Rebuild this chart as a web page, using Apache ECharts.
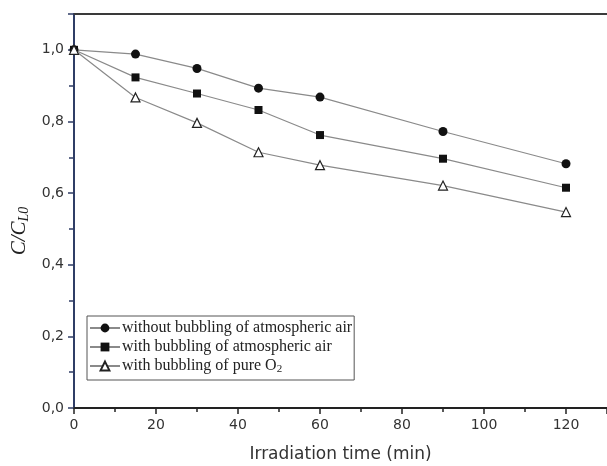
<!DOCTYPE html>
<html>
<head>
<meta charset="utf-8">
<script src="https://cdn.jsdelivr.net/npm/echarts@6/dist/echarts.min.js"></script>
<style>
html,body{margin:0;padding:0;background:#fff;}
#chart{width:607px;height:466px;}
</style>
</head>
<body>
<div id="chart"></div>
<script>
// irradiation time (min)
var times = [0, 15, 30, 45, 60, 90, 120];
// C/C_L0
var noBubbling = [1.0, 0.988, 0.948, 0.893, 0.868, 0.772, 0.682];
var airBubbling = [1.0, 0.923, 0.878, 0.832, 0.762, 0.696, 0.615];
var o2Bubbling = [1.0, 0.867, 0.796, 0.714, 0.678, 0.621, 0.547];
var seriesNames = ['without bubbling of atmospheric air', 'with bubbling of atmospheric air', 'with bubbling of pure O2'];

function pairs(xs, ys) {
	var out = [];
	for (var i = 0; i < xs.length; i++) {
		out.push([xs[i], ys[i]]);
	}
	return out;
}

var myChart = echarts.init(document.getElementById('chart'));
var lineCol = '#8a8a8a';
var option = {
	animation: false,
	backgroundColor: '#fff',
	grid: { left: 74, top: 14, right: 0, bottom: 58, outerBoundsMode: 'none', containLabel: false },
	legend: {
		orient: 'vertical',
		left: 87,
		top: 316,
		padding: [4, 2, 5, 2],
		borderColor: '#555',
		borderWidth: 1,
		itemWidth: 30,
		itemHeight: 11,
		itemGap: 3,
		data: seriesNames,
		formatter: function(name) {
			return name.replace('O2', 'O{sub|2}');
		},
		textStyle: {
			fontFamily: 'Liberation Serif',
			fontSize: 16,
			color: '#222',
			padding: [0, 0, 0, -3],
			rich: {
				sub: { fontFamily: 'Liberation Serif', fontSize: 11, color: '#222', verticalAlign: 'bottom', padding: [7, 0, 0, 0] }
			}
		}
	},
	xAxis: [{
		type: 'value',
		min: 0,
		max: 130,
		interval: 20,
		name: 'Irradiation time (min)',
		nameLocation: 'middle',
		nameGap: 38,
		nameTextStyle: { fontFamily: 'DejaVu Sans', fontSize: 17, color: '#333', verticalAlign: 'top' },
		axisLine: { lineStyle: { color: '#222', width: 2 } },
		axisTick: { inside: false, length: 6, lineStyle: { color: '#222', width: 1.5 } },
		minorTick: { show: true, splitNumber: 2, length: 4, lineStyle: { color: '#222', width: 1.5 } },
		axisLabel: {
			margin: 10,
			fontFamily: 'DejaVu Sans',
			fontSize: 14,
			color: '#333',
			formatter: function(v) { return v > 120 ? '' : v; }
		},
		splitLine: { show: false }
	}, {
		type: 'value',
		position: 'top',
		min: 0,
		max: 130,
		axisLine: { show: true, lineStyle: { color: '#3a3a3a', width: 2 } },
		axisTick: { show: false },
		axisLabel: { show: false },
		splitLine: { show: false }
	}],
	yAxis: {
		type: 'value',
		min: 0,
		max: 1.1,
		interval: 0.2,
		name: '{c|C/C}{s|L0}',
		nameLocation: 'middle',
		nameGap: 40,
		nameTextStyle: {
			padding: [0, 40, 0, 0],
			rich: {
				c: { fontFamily: 'Liberation Serif', fontStyle: 'italic', fontSize: 21, color: '#222' },
				s: { fontFamily: 'Liberation Serif', fontStyle: 'italic', fontSize: 14, color: '#222', verticalAlign: 'bottom', padding: [9, 0, 0, 0] }
			}
		},
		axisLine: { show: true, lineStyle: { color: '#2f3d66', width: 2 } },
		axisTick: { show: true, length: 6, lineStyle: { color: '#2f3d66', width: 1.5 } },
		minorTick: { show: true, splitNumber: 2, length: 5, lineStyle: { color: '#2f3d66', width: 1.5 } },
		axisLabel: {
			margin: 10,
			fontFamily: 'DejaVu Sans',
			fontSize: 14,
			color: '#333',
			formatter: function(v) { return v > 1.05 ? '' : v.toFixed(1).replace('.', ','); }
		},
		splitLine: { show: false }
	},
	series: [{
		name: seriesNames[0],
		type: 'line',
		data: pairs(times, noBubbling),
		symbol: 'circle',
		symbolSize: 9,
		lineStyle: { color: lineCol, width: 1.2 },
		itemStyle: { color: '#111' },
		z: 3
	}, {
		name: seriesNames[1],
		type: 'line',
		data: pairs(times, airBubbling),
		symbol: 'rect',
		symbolSize: 8,
		lineStyle: { color: lineCol, width: 1.2 },
		itemStyle: { color: '#111' },
		z: 3
	}, {
		name: seriesNames[2],
		type: 'line',
		data: pairs(times, o2Bubbling),
		symbol: 'triangle',
		symbolSize: 9,
		lineStyle: { color: lineCol, width: 1.2 },
		itemStyle: { color: '#fff', borderColor: '#222', borderWidth: 1.2 },
		z: 4
	}]
};
myChart.setOption(option);
</script>
</body>
</html>
